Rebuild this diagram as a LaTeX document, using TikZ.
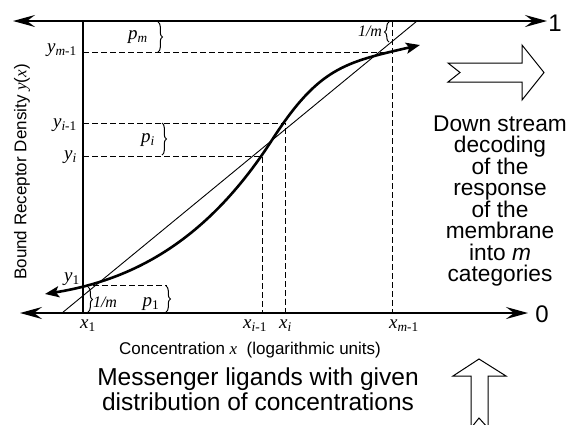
\documentclass[tikz,border=0pt]{standalone}
\usepackage{fontspec}
\setmainfont{Liberation Serif}
\setsansfont{Liberation Sans}
\usetikzlibrary{arrows.meta,decorations.pathreplacing}

% italic serif labels with subscripts
\newcommand\varlab[2]{\textit{#1}\textsubscript{#2}}
\newcommand\labsize{\fontsize{19bp}{22bp}\selectfont}

\tikzset{
  axistip/.tip={Stealth[length=22bp,width=12bp,inset=8bp]},
  axisline/.style={line width=2bp, axistip-axistip},
  vaxis/.style={line width=2.6bp},
  response/.style={line width=2.6bp, {Stealth[length=14bp,width=11bp,inset=3bp]}-{Stealth[length=14bp,width=11bp,inset=3bp]}},
  linear/.style={line width=0.9bp},
  guide/.style={line width=0.9bp, dash pattern=on 5.5bp off 3.5bp},
  bracebar/.style={line width=1bp, decorate, decoration={brace, amplitude=4.5bp}},
  varnode/.style={inner sep=0pt, font=\labsize},
  sanstext/.style={inner sep=0pt, font=\sffamily},
  hollow/.style={line width=1bp, draw=black, fill=white, line join=miter},
}

\begin{document}
\begin{tikzpicture}[x=1bp,y=-1bp]
  \useasboundingbox (0,0) rectangle (570,424);
  \clip (0,0) rectangle (570,424);

  % frame points
  \coordinate (topL) at (13,21);
  \coordinate (topR) at (547,21);
  \coordinate (botL) at (20,313);
  \coordinate (botR) at (528,313);
  \coordinate (axTop) at (83,21);
  \coordinate (axBot) at (83,313);

  % horizontal limits 1 and 0, vertical axis
  \draw[axisline] (topL) -- (topR);
  \draw[axisline] (botL) -- (botR);
  \draw[vaxis] (axTop) -- (axBot);

  \node[sanstext, font=\sffamily\fontsize{24bp}{26bp}\selectfont] (one) at (555,23) {1};
  \node[sanstext, font=\sffamily\fontsize{24bp}{26bp}\selectfont] (zero) at (542,314) {0};

  % guide points
  \coordinate (ym1) at (83,52);   \coordinate (xm1top) at (392,21);
  \coordinate (cm1) at (392,52);  \coordinate (xm1) at (392,313);
  \coordinate (yim1) at (83,123); \coordinate (ci) at (285,123);
  \coordinate (xi) at (285,313);
  \coordinate (yi) at (83,156);   \coordinate (cim1) at (262,156);
  \coordinate (xim1) at (262,313);
  \coordinate (c1) at (93,285);   \coordinate (p1top) at (167,285);

  % dashed guides
  \draw[guide] (ym1) -- (cm1);
  \draw[guide] (xm1top) -- (xm1);
  \draw[guide] (yim1) -- (ci) -- (xi);
  \draw[guide] (yi) -- (cim1) -- (xim1);
  \draw[guide] (c1) -- (p1top);

  % linear reference
  \coordinate (linA) at (62,313);
  \coordinate (linB) at (417,21);
  \draw[linear] (linA) -- (linB);

  % sigmoid response: convex lower half, concave upper half
  \coordinate (sLow) at (45,294);
  \coordinate (sMid) at (272,140);
  \coordinate (sHigh) at (420,45);
  \draw[response] (sLow) .. controls (139.4,278.9) and (210.6,235.2) .. (sMid)
    .. controls (318.5,67.9) and (344.2,62.4) .. (sHigh);

  % braces
  \draw[bracebar] (158,22) -- (158,52);
  \draw[bracebar] (162,123) -- (162,155);
  \draw[bracebar] (166,286) -- (166,312);
  \draw[bracebar] (88,287) -- (88,312);
  \draw[bracebar] (389,42) -- (389,22);

  % interval labels
  \node[varnode] (pm) at (138,37) {\varlab{p}{\textit{m}}};
  \node[varnode] (pi) at (148,140) {\varlab{p}{\textit{i}}};
  \node[varnode] (p1) at (151,304) {\varlab{p}{1}};
  \node[varnode, font=\fontsize{16bp}{18bp}\selectfont\itshape] (invmB) at (105,302) {1/m};
  \node[varnode, font=\fontsize{16bp}{18bp}\selectfont\itshape] (invmT) at (370,31) {1/m};

  % axis tick labels
  \node[varnode, anchor=base east] (lym1) at (77,52) {\varlab{y}{\textit{m}-1}};
  \node[varnode, anchor=base east] (lyim1) at (77,127) {\varlab{y}{\textit{i}-1}};
  \node[varnode, anchor=base east] (lyi) at (77,159) {\varlab{y}{\textit{i}}};
  \node[varnode, anchor=base east] (ly1) at (80,281) {\varlab{y}{1}};
  \node[varnode, anchor=base west] (lx1) at (80,328) {\varlab{x}{1}};
  \node[varnode, anchor=base west] (lxim1) at (243,328) {\varlab{x}{\textit{i}-1}};
  \node[varnode, anchor=base west] (lxi) at (279,328) {\varlab{x}{\textit{i}}};
  \node[varnode, anchor=base west] (lxm1) at (389,328) {\varlab{x}{\textit{m}-1}};

  % axis titles
  \node[sanstext, font=\sffamily\fontsize{17bp}{19bp}\selectfont, anchor=base] (xtitle) at (250,354)
    {Concentration \textit{\rmfamily x}\ \ (logarithmic units)};
  \node[sanstext, font=\sffamily\fontsize{17bp}{19bp}\selectfont, rotate=90] (ytitle) at (22,172)
    {Bound Receptor Density \textit{\rmfamily y}(\textit{\rmfamily x})};

  % decoding arrow and text
  \draw[hollow] (448,63) -- (522,63) -- (522,45) -- (544,72.5) -- (522,100)
    -- (522,82) -- (448,82) -- (460,72.5) -- cycle;
  \node[sanstext, align=center, font=\sffamily\fontsize{22.7bp}{21.5bp}\selectfont] (decode) at (500,201)
    {Down stream\\decoding\\of the\\response\\of the\\membrane\\into \textit{m}\\categories};

  % ligand arrow and text
  \draw[hollow] (471,428) -- (471,376) -- (453,376) -- (479,359) -- (506,376)
    -- (488,376) -- (488,428) -- (479,418) -- cycle;
  \node[sanstext, align=center, font=\sffamily\fontsize{24.5bp}{25bp}\selectfont] (ligand) at (258,389)
    {Messenger ligands with given\\distribution of concentrations};
\end{tikzpicture}
\end{document}
